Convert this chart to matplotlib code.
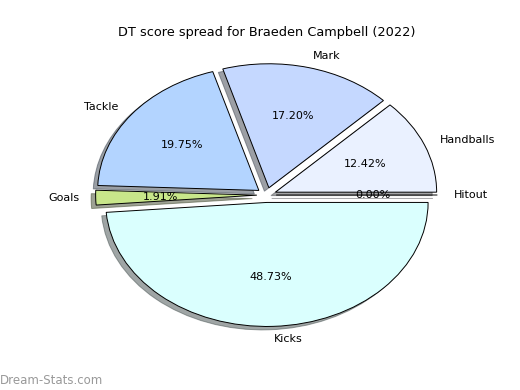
import matplotlib
matplotlib.use("Agg")
import matplotlib.pyplot as plt

# DT score breakdown
labels = ['Hitout', 'Handballs', 'Mark', 'Tackle', 'Goals', 'Kicks']
values = [0.00, 12.42, 17.20, 19.75, 1.91, 48.73]
colors = ['#f0f0ff', '#eaf1ff', '#c5d8ff', '#b3d4ff', '#c8e68a', '#dafffe']
explode = [0.06] * len(values)

fig, ax = plt.subplots(figsize=(5.2, 3.9), dpi=100)
fig.subplots_adjust(left=0.125, right=0.9, bottom=0.1025, top=0.8975)

ax.pie(values, labels=labels, colors=colors, explode=explode,
       autopct='%1.2f%%', shadow=True, startangle=0,
       wedgeprops={'edgecolor': 'black', 'linewidth': 0.7},
       textprops={'fontsize': 8})
ax.set_aspect('auto')

ax.set_title('DT score spread for Braeden Campbell (2022)', fontsize=9.3, pad=3)

# watermark
fig.text(0.0, 0.015, 'Dream-Stats.com', color='#999999', fontsize=8.5)

fig.savefig('out.png', dpi=100)
